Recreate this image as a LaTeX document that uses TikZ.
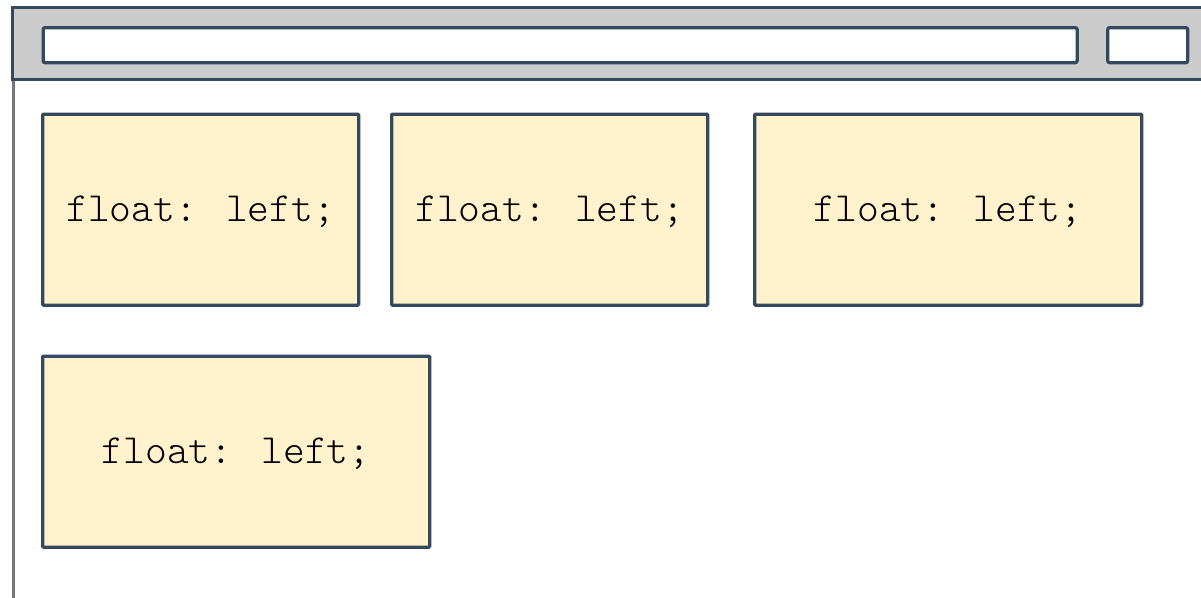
\documentclass[tikz,border=0pt]{standalone}
\usepackage{fontspec}
\newfontfamily\codefont{Latin Modern Mono Light}
\definecolor{edge}{HTML}{34495E}
\definecolor{hdr}{HTML}{CCCCCC}
\definecolor{boxfill}{HTML}{FFF2CC}
\definecolor{rail}{HTML}{777777}
\tikzset{
  floatbox/.style={draw=edge, fill=boxfill, line width=3.3pt, rounded corners=1pt, font=\codefont\fontsize{41.5}{44}\selectfont, text=black},
  bar/.style={draw=edge, fill=white, line width=3.3pt, rounded corners=2pt},
  codetext/.style={font=\codefont\fontsize{41.5}{44}\selectfont, text=black, inner sep=0pt},
}
\begin{document}
\begin{tikzpicture}[x=1pt,y=-1pt]
\useasboundingbox (0,0) rectangle (1201,597);
\draw[rail, line width=3pt] (13,80) -- (13,600);
\path[draw=edge, fill=hdr, line width=3.3pt] (1210,7.5) -- (12.5,7.5) -- (12.5,79.5) -- (1210,79.5);
\node[bar, minimum width=1034pt, minimum height=35pt, inner sep=0pt, anchor=north west] (addr) at (41.5,26) {};
\node[bar, minimum width=80pt, minimum height=35pt, inner sep=0pt, anchor=north west] (btn) at (1106,26) {};
\node[floatbox, minimum width=316pt, minimum height=191pt, inner sep=0pt, anchor=north west] (b1) at (41,112.5) {};
\node[floatbox, minimum width=316pt, minimum height=191pt, inner sep=0pt, anchor=north west] (b2) at (390,112.5) {};
\node[floatbox, minimum width=387pt, minimum height=191pt, inner sep=0pt, anchor=north west] (b3) at (753,112.5) {};
\node[floatbox, minimum width=387pt, minimum height=191pt, inner sep=0pt, anchor=north west] (b4) at (41,354.5) {};
\node[codetext] (t1) at ([yshift=-2pt]b1.center) {float: left;};
\node[codetext] (t2) at ([yshift=-2pt]b2.center) {float: left;};
\node[codetext] (t3) at ([yshift=-2pt]b3.center) {float: left;};
\node[codetext] (t4) at ([yshift=-2pt]b4.center) {float: left;};
\end{tikzpicture}
\end{document}
